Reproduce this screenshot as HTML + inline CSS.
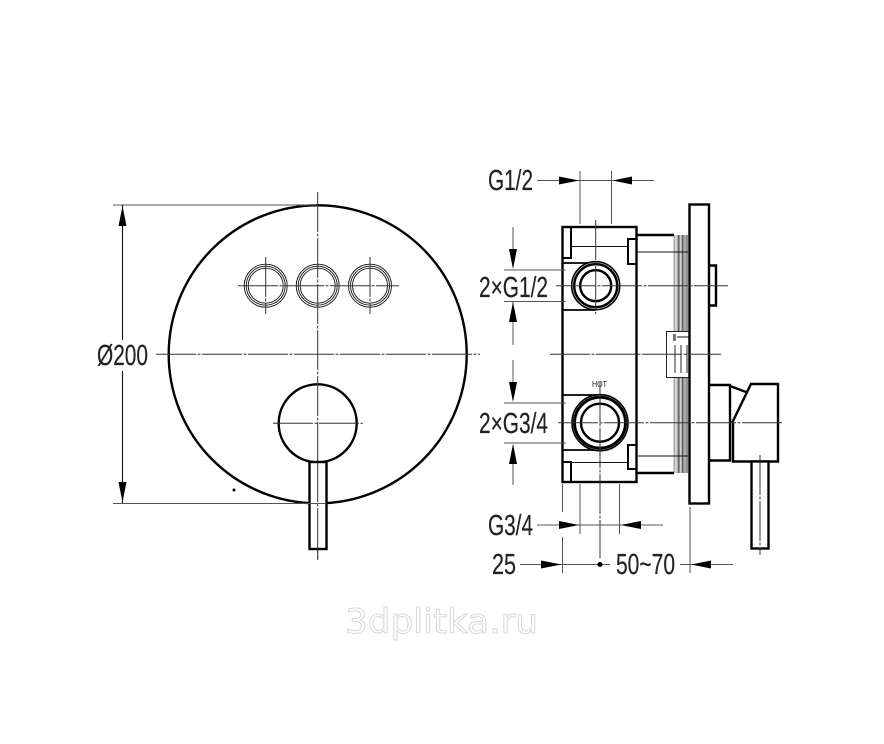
<!DOCTYPE html>
<html><head><meta charset="utf-8"><style>
html,body{margin:0;padding:0;background:#fff}
svg{display:block}
text{font-family:"Liberation Sans",sans-serif;fill:#222;font-size:29px;stroke:#222;stroke-width:.2}
.k{fill:none;stroke:#000;stroke-width:2.4}
.m{fill:none;stroke:#111;stroke-width:1.1}
.g{fill:none;stroke:#555;stroke-width:1}
.c{fill:none;stroke:#333;stroke-width:1;stroke-dasharray:40 1.5 3 1.5}
.a{fill:#000;stroke:none}
</style></head><body>
<svg width="884" height="744" viewBox="0 0 884 744" xmlns="http://www.w3.org/2000/svg">
<!-- Left view -->
<circle class="k" cx="317.7" cy="354.3" r="149"/>
<circle class="k" cx="317.7" cy="423.3" r="39"/>
<g class="m" style="stroke-width:.9">
<circle cx="265.7" cy="285.7" r="21.5"/><circle cx="265.7" cy="285.7" r="19.5"/><circle cx="265.7" cy="285.7" r="17.5"/>
<circle cx="317.7" cy="285.7" r="21.5"/><circle cx="317.7" cy="285.7" r="19.5"/><circle cx="317.7" cy="285.7" r="17.5"/>
<circle cx="370" cy="285.7" r="21.5"/><circle cx="370" cy="285.7" r="19.5"/><circle cx="370" cy="285.7" r="17.5"/>
</g>
<path class="c" d="M238 285.7H399M265.7 257V314M370 257V314M317.7 192V560M156 354.3H480M273 423.3H363"/>
<rect x="309.5" y="462" width="17" height="87" fill="#fff" stroke="#000" stroke-width="2.4"/>
<path class="c" d="M317.7 462V560"/>
<path class="g" d="M113 205H317M113 503.5H326"/>
<path class="m" d="M122.500 205V340M122.500 371V503"/>
<path class="a" d="M122.500 206L118.500 226H126.500ZM122.500 502L118.500 482H126.500Z"/>
<circle cx="234" cy="490" r="1.500" fill="#000"/>
<text x="97" y="365" textLength="51" lengthAdjust="spacingAndGlyphs">Ø200</text>

<!-- Right view: threads -->
<path d="M674.500 235V337M677.500 235V337M681.500 235V337M685 235V337M674.500 377V473M677.500 377V473M681.500 377V473M685 377V473" stroke="#aaa" stroke-width="2" fill="none"/>
<path d="M679 235V337M683 235V337M687 235V337M679 377V473M683 377V473M687 377V473" stroke="#222" stroke-width="1" fill="none"/>
<!-- Body -->
<rect class="k" x="562.500" y="227" width="74" height="255"/>
<path class="k" d="M636.500 235H674M636.500 473H674"/>
<path class="k" style="stroke-width:2" d="M562.500 258H571V227M562.500 462H571V482M628 239H636.500V264H628ZM628 445H636.500V469H628Z"/>
<path class="m" style="stroke-width:.9" d="M571 246.500H628M571 462.500H628M636 252H688M636 456H688"/>
<path class="k" style="stroke-width:1.800" d="M562.500 263H596M562.500 310H596M562.500 395H600M562.500 450H600"/>
<!-- Upper port -->
<circle cx="595.700" cy="285.700" r="24" fill="#fff" stroke="#000" stroke-width="1.600"/>
<circle class="k" cx="595.700" cy="285.700" r="21.500"/>
<circle class="k" cx="595.700" cy="285.700" r="15.500"/>
<!-- Lower port -->
<circle cx="600" cy="422.700" r="28" fill="#fff" stroke="#000" stroke-width="1.600"/>
<circle cx="600" cy="422.700" r="25.500" fill="none" stroke="#000" stroke-width="3"/>
<circle class="k" cx="600" cy="422.700" r="19"/>
<!-- Label box -->
<rect x="666.500" y="331.500" width="23" height="46" fill="#fff" stroke="#222" stroke-width="1"/>
<path class="m" style="stroke-width:.9" d="M675 345V373M681 345V373M687 345V373M677 337H689"/>
<rect x="673" y="334" width="3" height="7" fill="#777"/>
<!-- Plate -->
<rect class="k" x="689.500" y="204.500" width="19.500" height="299" fill="#fff"/>
<path class="k" d="M709 265.500H716V305.500H709"/>
<!-- Handle -->
<path class="k" d="M709 385H730V460.500H709M730 386L746 392M732 423L751 384H778V461.500H733V423"/>
<rect x="751.500" y="461.500" width="17" height="87" fill="#fff" stroke="#000" stroke-width="2.400"/>
<!-- Centre lines -->
<path class="c" d="M550 354.300H721M556 285.700H728M558 422.700H783M595.700 220V314M600 382V558M760 455V555"/>
<!-- Dimensions -->
<path class="g" d="M580 171V224M611.500 171V224M537 180.500H654"/>
<path class="a" d="M579 180.500L559 176.500V184.500ZM612.500 180.500L632 176.500V184.500Z"/>
<text x="488" y="190" textLength="45" lengthAdjust="spacingAndGlyphs">G1/2</text>
<path class="g" d="M513 227V262M513 301V345M504 270H566M504 301.500H566"/>
<path class="a" d="M513 269L509 249H517ZM513 302L509 322H517Z"/>
<text x="479" y="297" textLength="69" lengthAdjust="spacingAndGlyphs">2×G1/2</text>
<path class="g" d="M513 360V395M513 445V485M504 403H566M504 443H566"/>
<path class="a" d="M513 402L509 382H517ZM513 444L509 464H517Z"/>
<text x="479" y="433" textLength="69" lengthAdjust="spacingAndGlyphs">2×G3/4</text>
<path class="g" d="M580 484V534M619.500 484V534M537 525H663"/>
<path class="a" d="M579 525L559 521V529ZM620.500 525L641 521V529Z"/>
<text x="488" y="535" textLength="45" lengthAdjust="spacingAndGlyphs">G3/4</text>
<path class="g" d="M562.500 484V512M562.500 537V573M690 507V573M520 564.500H610M680 564.500H733"/>
<path class="a" d="M561.500 564.500L541 560.500V568.500ZM691 564.500L711 560.500V568.500Z"/>
<circle cx="600" cy="564.500" r="2.500" fill="#000"/>
<rect x="610" y="552" width="68" height="24" fill="#fff"/>
<text x="492" y="574" textLength="24" lengthAdjust="spacingAndGlyphs">25</text>
<text x="616" y="574" textLength="59" lengthAdjust="spacingAndGlyphs">50~70</text>
<text x="592" y="387" style="font-size:8px;stroke:none" textLength="15" lengthAdjust="spacingAndGlyphs">HOT</text>
<!-- Watermark -->
<text x="345" y="633" textLength="193" lengthAdjust="spacingAndGlyphs" style="font-family:'DejaVu Sans',sans-serif;font-size:34px;fill:#fff;stroke:#d8d8d8;stroke-width:1">3dplitka.ru</text>
</svg>
</body></html>
